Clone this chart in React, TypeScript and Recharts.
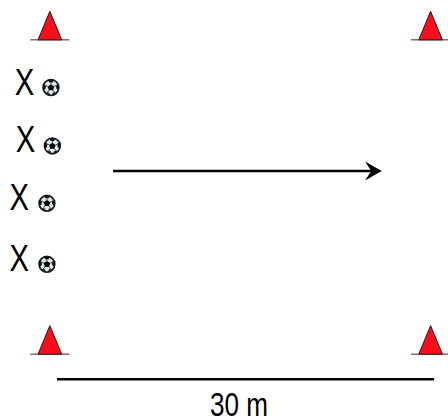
import { Scatter, ScatterChart, XAxis, YAxis } from 'recharts'

// drill layout, in metres (0,0 = left end of the 30 m measure)
const cones = [
  { x: -0.57, y: 27 },
  { x: 29.72, y: 27 },
  { x: -0.57, y: 2 },
  { x: 29.72, y: 2 },
]
const players = [
  { x: -2.59, y: 23.69, name: 'X' },
  { x: -2.51, y: 19.16, name: 'X' },
  { x: -3.0, y: 14.54, name: 'X' },
  { x: -3.0, y: 9.69, name: 'X' },
]
const balls = [
  { x: -0.48, y: 23.21 },
  { x: -0.37, y: 18.56 },
  { x: -0.8, y: 14.0 },
  { x: -0.8, y: 9.15 },
]
const runArrow = [
  { x: 4.46, y: 16.57 },
  { x: 25.0, y: 16.57 },
]
const measure = [
  { x: 0, y: 0 },
  { x: 30, y: 0 },
]
const measureLabel = [{ x: 14.48, y: -2.96, name: '30 m' }]

const FONT = '"Liberation Sans", Arial, sans-serif'

function Cone({ cx, cy }: any) {
  return (
    <g>
      <path d={`M${cx - 19.5} ${cy}H${cx + 19.5}`} stroke="#5c1a1c" strokeWidth={1} />
      <path
        d={`M${cx} ${cy - 28.5}L${cx + 11.8} ${cy}H${cx - 11.8}Z`}
        fill="#ff0d1a"
        stroke="#1a1a1a"
        strokeWidth={1}
      />
    </g>
  )
}

function Player({ cx, cy, payload }: any) {
  return (
    <text
      x={cx}
      y={cy + 13.5}
      textAnchor="middle"
      fontFamily={FONT}
      fontSize={37.5}
      textLength={19.5}
      lengthAdjust="spacingAndGlyphs"
      fill="#000"
    >
      {payload.name}
    </text>
  )
}

function Ball({ cx, cy }: any) {
  const p = (dx: number, dy: number) => `${cx + dx} ${cy + dy}`
  return (
    <g>
      <circle cx={cx} cy={cy} r={7.8} fill="#dfe8ec" stroke="#1c2226" strokeWidth={1.8} />
      <path d={`M${p(0, -3.2)}L${p(3.2, -1)}L${p(2.1, 2.8)}L${p(-2.1, 2.8)}L${p(-3.2, -1)}Z`} fill="#000" />
      <path d={`M${p(-3.2, -8)}L${p(3.2, -8)}L${p(1.8, -5)}L${p(-1.8, -5)}Z`} fill="#111" />
      <path d={`M${p(8.2, -3.4)}L${p(8, 2.8)}L${p(5.2, 1)}L${p(5.2, -2.6)}Z`} fill="#111" />
      <path d={`M${p(-8.2, -3.4)}L${p(-8, 2.8)}L${p(-5.2, 1)}L${p(-5.2, -2.6)}Z`} fill="#111" />
      <path d={`M${p(2, 8.2)}L${p(5.8, 5.6)}L${p(3.6, 4.6)}L${p(1.4, 5.6)}Z`} fill="#222" />
      <path d={`M${p(-2, 8.2)}L${p(-5.8, 5.6)}L${p(-3.6, 4.6)}L${p(-1.4, 5.6)}Z`} fill="#222" />
      <path
        d={`M${p(0, -3)}L${p(0, -5.2)}M${p(3, -1)}L${p(5.6, -2)}M${p(-3, -1)}L${p(-5.6, -2)}M${p(2, 2.6)}L${p(3.4, 4.6)}M${p(-2, 2.6)}L${p(-3.4, 4.6)}`}
        stroke="#444"
        strokeWidth={1}
      />
    </g>
  )
}

function ArrowHead({ cx, cy, index }: any) {
  if (index !== 1) return <g />
  return (
    <path
      d={`M${cx + 10.5} ${cy}L${cx - 6.2} ${cy - 9.5}L${cx} ${cy}L${cx - 6.2} ${cy + 9.5}Z`}
      fill="#000"
    />
  )
}

function Label({ cx, cy, payload }: any) {
  return (
    <text
      x={cx}
      y={cy}
      textAnchor="middle"
      fontFamily={FONT}
      fontSize={33}
      textLength={58}
      lengthAdjust="spacingAndGlyphs"
      fill="#000"
    >
      {payload.name}
    </text>
  )
}

const Nothing = () => <g />

export default function App() {
  return (
    <div style={{ position: 'absolute', left: 0, top: 0, background: '#fff' }}>
      <ScatterChart width={448} height={417} margin={{ top: 0, right: 0, bottom: 0, left: 0 }}>
        <XAxis type="number" dataKey="x" domain={[-4.535, 31.105]} hide />
        <YAxis type="number" dataKey="y" domain={[-3, 30.17]} hide />
        <Scatter data={cones} shape={Cone} isAnimationActive={false} />
        <Scatter data={players} shape={Player} isAnimationActive={false} />
        <Scatter data={balls} shape={Ball} isAnimationActive={false} />
        <Scatter
          data={runArrow}
          line={{ stroke: '#000', strokeWidth: 2.5 }}
          shape={ArrowHead}
          isAnimationActive={false}
        />
        <Scatter
          data={measure}
          line={{ stroke: '#000', strokeWidth: 2.5 }}
          shape={Nothing}
          isAnimationActive={false}
        />
        <Scatter data={measureLabel} shape={Label} isAnimationActive={false} />
      </ScatterChart>
    </div>
  )
}
